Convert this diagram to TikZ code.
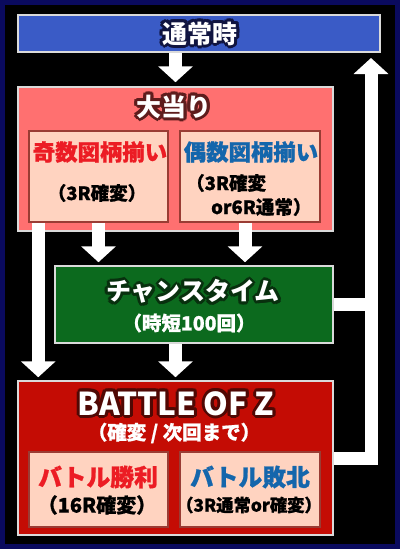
\documentclass[tikz,border=0pt]{standalone}
\usepackage{fontspec}
\setmainfont{Noto Sans CJK JP}
\newfontfamily\heavy{Noto Sans CJK JP}[BoldFeatures={FakeBold=1}]
\usepackage{contour}
\contournumber{12}
\usetikzlibrary{arrows.meta}
\definecolor{frame}{HTML}{0A0A5E}
\definecolor{normalblue}{HTML}{3A5BC6}
\definecolor{normalink}{HTML}{101440}
\definecolor{hitpink}{HTML}{FF7070}
\definecolor{hitink}{HTML}{5E1C1C}
\definecolor{peach}{HTML}{FFD3C0}
\definecolor{peachedge}{HTML}{9A3C34}
\definecolor{chancegreen}{HTML}{0C6A1E}
\definecolor{chanceink}{HTML}{08300E}
\definecolor{battlered}{HTML}{C40C04}
\definecolor{battleink}{HTML}{500804}
\definecolor{oddred}{HTML}{EC1C24}
\definecolor{evenblue}{HTML}{1466AC}
\definecolor{rim}{HTML}{DADADA}

\begin{document}
\begin{tikzpicture}[x=1pt,y=-1pt,
    panel/.style ={draw=rim, line width=1.5pt, inner sep=0pt},
    choice/.style ={draw=peachedge, line width=1.5pt, fill=peach, inner sep=0pt},
    title/.style ={text=white, inner sep=0pt, font=\bfseries\fontsize{25}{25}\selectfont\contourlength{3pt}},
    pick/.style ={inner sep=0pt, font=\heavy\bfseries\fontsize{22.4}{22.4}\selectfont},
    note/.style ={inner sep=0pt, font=\heavy\bfseries\fontsize{18.5}{24}\selectfont},
    whitenote/.style ={text=white, inner sep=0pt, font=\heavy\bfseries\fontsize{19.5}{19.5}\selectfont},
    flow/.style ={white, line width=13pt, -{Triangle[width=34pt,length=16pt]}},
    rail/.style ={white, line width=13pt}]
   \fill[frame] (0,0) rectangle (400,549);
   \fill[black] (5,5) rectangle (395,544);

   \node[panel, fill=normalblue, minimum width=362pt, minimum height=37pt] (normal) at (199,33.5) {};
   \node[panel, fill=hitpink, minimum width=315pt, minimum height=144pt] (oatari) at (175.5,159) {};
   \node[choice, minimum width=139pt, minimum height=91pt] (odd) at (98.5,176.5) {};
   \node[choice, minimum width=140pt, minimum height=91pt] (even) at (250,176.5) {};
   \node[panel, fill=chancegreen, minimum width=278pt, minimum height=77pt] (chance) at (194,304.5) {};
   \node[panel, fill=battlered, minimum width=315pt, minimum height=154pt] (battle) at (175.5,458) {};
   \node[choice, minimum width=139pt, minimum height=75pt] (win) at (98.5,489.5) {};
   \node[choice, minimum width=140pt, minimum height=75pt] (lose) at (250,489.5) {};

   \node[title] (normaltext) at (200,35) {\contour{normalink}{通常時}};
   \node[title] (oataritext) at (174,108) {\contour{hitink}{大当り}};
   \node[pick, text=oddred] (oddtext) at (100,152) {奇数図柄揃い};
   \node[note] (oddnote) at (97,193) {（3R確変）};
   \node[pick, text=evenblue] (eventext) at (251,152) {偶数図柄揃い};
   \node[note, align=left, anchor=west] (evennote) at (186,195) {（3R確変\\\hspace*{1.35em}or6R通常）};
   \node[title] (chancetext) at (193,293) {\contour{chanceink}{チャンスタイム}};
   \node[whitenote] (chancenote) at (189,323) {（時短100回）};
   \node[title, font=\bfseries\fontsize{31.5}{31.5}\selectfont\contourlength{3pt}] (battletext) at (176,405) {\contour{battleink}{BATTLE OF Z}};
   \node[whitenote] (battlenote) at (174,433) {（確変 / 次回まで）};
   \node[pick, text=oddred, font=\heavy\bfseries\fontsize{23.8}{23.8}\selectfont] (wintext) at (98,477) {バトル勝利};
   \node[note, font=\heavy\bfseries\fontsize{20}{20}\selectfont] (winnote) at (97,505) {（16R確変）};
   \node[pick, text=evenblue, font=\heavy\bfseries\fontsize{23.8}{23.8}\selectfont] (losetext) at (250,477) {バトル敗北};
   \node[note, font=\heavy\bfseries\fontsize{17.3}{17.3}\selectfont] (losenote) at (249,505) {（3R通常or確変）};

   \coordinate (back) at (371,58);
   \draw[flow] (normal.south -| oatari.north) to ([yshift=4pt]oatari.north);
   \draw[flow] (odd.south) to ([yshift=3pt]odd.south |- chance.north);
   \draw[flow] ([xshift=-5pt]even.south) to ([xshift=-5pt,yshift=3pt]even.south |- chance.north);
   \draw[flow] ([xshift=10pt]odd.south west) to ([xshift=10pt,yshift=3pt]odd.south west |- battle.north);
   \draw[flow] (chance.south -| battle.north) to ([yshift=3pt]battle.north);
   \draw[rail] (chance.east) to (chance.east -| back);
   \draw[flow] (battle.east) -| (back);
 \end{tikzpicture}
\end{document}
